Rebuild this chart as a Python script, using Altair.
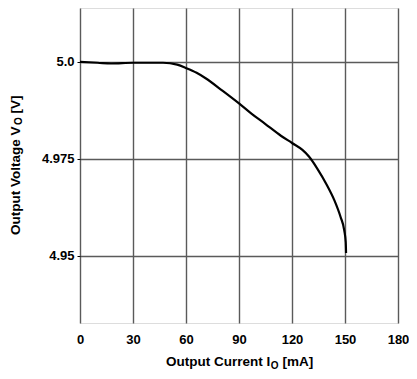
import altair as alt
import pandas as pd

# Data
current_ma = [0, 10, 17.6, 30, 47, 55, 60.2, 66, 71.1, 80.6, 90, 97.2, 104.6, 113.9,
              120, 125.9, 129.6, 134.3, 139.8, 144, 147.5, 149.6, 150.4, 150.6]
voltage_v = [5.0, 4.9998, 4.9996, 4.9998, 4.9998, 4.9993, 4.9984, 4.9972, 4.9958,
             4.9926, 4.9893, 4.9866, 4.9841, 4.9809, 4.9791, 4.9773, 4.9756, 4.9725,
             4.9682, 4.9643, 4.9600, 4.9565, 4.9535, 4.9507]

x_ticks = [0, 30, 60, 90, 120, 150, 180]
y_ticks = [4.95, 4.975, 5.0]
y_tick_labels = ["4.95", "4.975", "5.0"]

x_title_parts = ["Output Current I", "O", "[mA]"]
y_title_parts = ["Output Voltage V", "O", "[V]"]

FONT = "Liberation Sans"
W, H = 318, 315

df = pd.DataFrame({"I": current_ma, "V": voltage_v})

label_expr = " : ".join(
    [f"abs(datum.value - {v}) < 1e-6 ? '{l}'" for v, l in zip(y_ticks, y_tick_labels)]
) + " : ''"

line = alt.Chart(df).mark_line(color="black", strokeWidth=2.2, interpolate="monotone").encode(
    x=alt.X("I:Q", scale=alt.Scale(domain=[0, 180], nice=False),
            axis=alt.Axis(values=x_ticks, title=None, grid=True, gridColor="#5a5a5a",
                          gridWidth=1.4, gridOpacity=1, domain=False, ticks=False,
                          labelFont=FONT, labelFontWeight="bold", labelFontSize=13,
                          labelColor="black", labelPadding=10, labelFlush=False)),
    y=alt.Y("V:Q", scale=alt.Scale(domain=[4.93265, 5.01392], nice=False, zero=False),
            axis=alt.Axis(values=y_ticks, title=None, grid=True, gridColor="#5a5a5a",
                          gridWidth=1.4, gridOpacity=1, domain=False, ticks=True,
                          tickSize=3, tickColor="black", labelExpr=label_expr,
                          labelFont=FONT, labelFontWeight="bold", labelFontSize=13,
                          labelColor="black", labelPadding=3)),
)

one = pd.DataFrame({"a": [0]})
MAIN = 13.5
SUB = 10


def txt(t, size, x, y, angle=0, baseline="alphabetic"):
    kw = dict(text=t, font=FONT, fontWeight="bold", fontSize=size, align="left",
              baseline=baseline, color="black")
    if angle:
        kw["angle"] = angle
    return alt.Chart(one).mark_text(**kw).encode(x=alt.value(x), y=alt.value(y))


# x title pieces (plot-area pixel coordinates)
xt1 = txt(x_title_parts[0], MAIN, 86, 357.5)
xt2 = txt(x_title_parts[1], SUB, 190.7, 360.5)
xt3 = txt(x_title_parts[2], MAIN, 202.5, 357.5)

# y title pieces, rotated
yt1 = txt(y_title_parts[0], MAIN, -64, 227, angle=270, baseline="middle")
yt2 = txt(y_title_parts[1], SUB, -61, 117, angle=270, baseline="middle")
yt3 = txt(y_title_parts[2], MAIN, -64, 105.5, angle=270, baseline="middle")

chart = alt.layer(line, xt1, xt2, xt3, yt1, yt2, yt3).properties(
    width=W, height=H,
    autosize=alt.AutoSizeParams(type="none"),
    padding={"left": 72, "top": 0, "right": 11, "bottom": 48},
).configure_view(stroke="black", strokeWidth=2.5).configure(background="white")

chart.save("out.html", embed_options={"renderer": "svg", "actions": False})
